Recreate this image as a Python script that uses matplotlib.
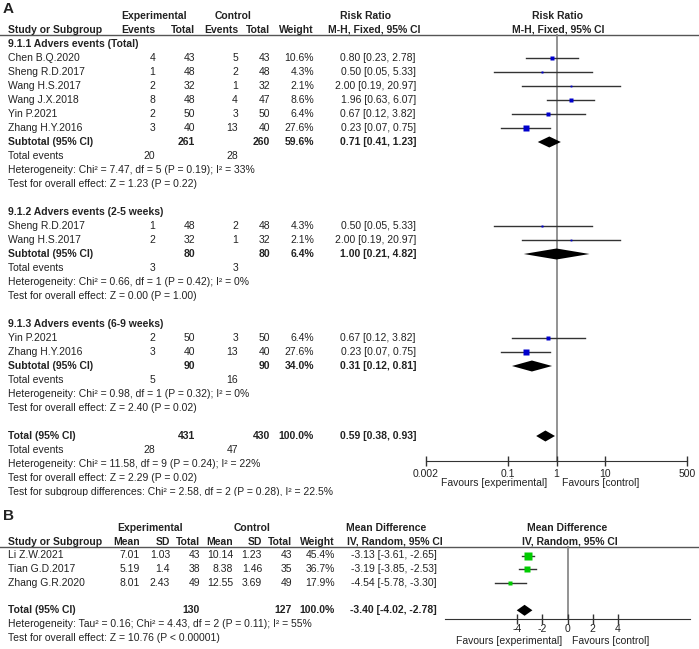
import matplotlib
matplotlib.use("Agg")
import matplotlib.pyplot as plt
from matplotlib.ticker import NullLocator
from matplotlib.transforms import Bbox

# ---------------- data: panel A (risk ratio, adverse events) ----------------
a_groups = ["9.1.1 Advers events (Total)",
            "9.1.2 Advers events (2-5 weeks)",
            "9.1.3 Advers events (6-9 weeks)"]
a_group = [0, 0, 0, 0, 0, 0, 1, 1, 2, 2]
a_studies = ["Chen B.Q.2020", "Sheng R.D.2017", "Wang H.S.2017", "Wang J.X.2018",
             "Yin P.2021", "Zhang H.Y.2016", "Sheng R.D.2017", "Wang H.S.2017",
             "Yin P.2021", "Zhang H.Y.2016"]
a_exp_events = [4, 1, 2, 8, 2, 3, 1, 2, 2, 3]
a_exp_total = [43, 48, 32, 48, 50, 40, 48, 32, 50, 40]
a_ctl_events = [5, 2, 1, 4, 3, 13, 2, 1, 3, 13]
a_ctl_total = [43, 48, 32, 47, 50, 40, 48, 32, 50, 40]
a_weight = [10.6, 4.3, 2.1, 8.6, 6.4, 27.6, 4.3, 2.1, 6.4, 27.6]
a_rr = [0.80, 0.50, 2.00, 1.96, 0.67, 0.23, 0.50, 2.00, 0.67, 0.23]
a_lo = [0.23, 0.05, 0.19, 0.63, 0.12, 0.07, 0.05, 0.19, 0.12, 0.07]
a_hi = [2.78, 5.33, 20.97, 6.07, 3.82, 0.75, 5.33, 20.97, 3.82, 0.75]

sub_exp_total = [261, 80, 90]
sub_ctl_total = [260, 80, 90]
sub_weight = [59.6, 6.4, 34.0]
sub_rr = [0.71, 1.00, 0.31]
sub_lo = [0.41, 0.21, 0.12]
sub_hi = [1.23, 4.82, 0.81]
sub_exp_events = [20, 3, 5]
sub_ctl_events = [28, 3, 16]
sub_het = ["Heterogeneity: Chi² = 7.47, df = 5 (P = 0.19); I² = 33%",
           "Heterogeneity: Chi² = 0.66, df = 1 (P = 0.42); I² = 0%",
           "Heterogeneity: Chi² = 0.98, df = 1 (P = 0.32); I² = 0%"]
sub_test = ["Test for overall effect: Z = 1.23 (P = 0.22)",
            "Test for overall effect: Z = 0.00 (P = 1.00)",
            "Test for overall effect: Z = 2.40 (P = 0.02)"]

a_tot_exp, a_tot_ctl, a_tot_weight = 431, 430, 100.0
a_tot_rr, a_tot_lo, a_tot_hi = 0.59, 0.38, 0.93
a_tot_exp_events, a_tot_ctl_events = 28, 47
a_tot_het = "Heterogeneity: Chi² = 11.58, df = 9 (P = 0.24); I² = 22%"
a_tot_test = "Test for overall effect: Z = 2.29 (P = 0.02)"
a_sub_diff = "Test for subgroup differences: Chi² = 2.58, df = 2 (P = 0.28), I² = 22.5%"
a_ticks = [0.002, 0.1, 1, 10, 500]
a_tick_labels = ["0.002", "0.1", "1", "10", "500"]

# ---------------- data: panel B (mean difference) ----------------
b_studies = ["Li Z.W.2021", "Tian G.D.2017", "Zhang G.R.2020"]
b_exp_mean = [7.01, 5.19, 8.01]
b_exp_sd = [1.03, 1.4, 2.43]
b_exp_n = [43, 38, 49]
b_ctl_mean = [10.14, 8.38, 12.55]
b_ctl_sd = [1.23, 1.46, 3.69]
b_ctl_n = [43, 35, 49]
b_weight = [45.4, 36.7, 17.9]
b_md = [-3.13, -3.19, -4.54]
b_lo = [-3.61, -3.85, -5.78]
b_hi = [-2.65, -2.53, -3.30]
b_tot_exp, b_tot_ctl, b_tot_weight = 130, 127, 100.0
b_tot_md, b_tot_lo, b_tot_hi = -3.40, -4.02, -2.78
b_het = "Heterogeneity: Tau² = 0.16; Chi² = 4.43, df = 2 (P = 0.11); I² = 55%"
b_test = "Test for overall effect: Z = 10.76 (P < 0.00001)"
b_ticks = [-4, -2, 0, 2, 4]

# ---------------- figure setup ----------------
plt.rcParams['font.family'] = ['Liberation Sans', 'DejaVu Sans']
plt.rcParams['font.size'] = 7.5
W, H = 699, 649
TXT = '#222222'
LINE = '#333333'

fig = plt.figure(figsize=(W / 100, H / 100), dpi=100)
tab = fig.add_axes([0, 0, 1, 1])
tab.set_xlim(0, W)
tab.set_ylim(H, 0)
tab.axis('off')


def px_axes(x0, x1, y0, y1, pad=2):
    ax = fig.add_axes([x0 / W, 1 - y1 / H, (x1 - x0) / W, (y1 - y0) / H])
    ax.set_facecolor('none')
    for s in ['top', 'left', 'right']:
        ax.spines[s].set_visible(False)
    ax.spines['bottom'].set_color(LINE)
    ax.set_yticks([])
    ax.xaxis.set_minor_locator(NullLocator())
    ax.tick_params(axis='x', direction='inout', length=7, width=1, color=LINE,
                   labelcolor=TXT, labelsize=7.5, pad=pad)
    return ax


def put(x, y, s, ha='left', bold=False, **kw):
    return tab.text(x, y, s, ha=ha, va='center', color=TXT,
                    fontweight='bold' if bold else 'normal', **kw)


def fmt_pct(w):
    return '{:.1f}%'.format(w)


def fmt_ci(e, lo, hi):
    return '{:.2f} [{:.2f}, {:.2f}]'.format(e, lo, hi)


# ================= PANEL A =================
colA = dict(ee=155, et=195, ce=238, ct=270, w=314, rr=416)
put(3, 9, 'A', bold=True, fontsize=11)
put(154, 16, 'Experimental', 'center', True)
put(233, 16, 'Control', 'center', True)
put(366, 16, 'Risk Ratio', 'center', True)
put(557, 16, 'Risk Ratio', 'center', True)
put(8, 30, 'Study or Subgroup', bold=True)
put(colA['ee'], 30, 'Events', 'right', True)
put(colA['et'], 30, 'Total', 'right', True)
put(colA['ce'], 30, 'Events', 'right', True)
put(colA['ct'], 30, 'Total', 'right', True)
put(colA['w'], 30, 'Weight', 'right', True)
put(374, 30, 'M-H, Fixed, 95% CI', 'center', True)
put(558, 30, 'M-H, Fixed, 95% CI', 'center', True)
tab.plot([0, W], [34.5, 34.5], color='#555555', lw=1)

axA = px_axes(426, 687, 34, 461)
axA.set_xscale('log')
axA.set_xlim(0.002, 500)
axA.set_ylim(461, 34)
axA.xaxis.set_minor_locator(NullLocator())
axA.set_xticks(a_ticks)
axA.set_xticklabels(a_tick_labels)
axA.axvline(1, color='#808080', lw=1.2, zorder=1)

row = 0
step = 14.0
y0 = 44


def ry(r):
    return y0 + step * r


for g, gname in enumerate(a_groups):
    put(8, ry(row), gname, bold=True)
    row += 1
    for i in [k for k, gg in enumerate(a_group) if gg == g]:
        y = ry(row)
        put(8, y, a_studies[i])
        put(colA['ee'], y, str(a_exp_events[i]), 'right')
        put(colA['et'], y, str(a_exp_total[i]), 'right')
        put(colA['ce'], y, str(a_ctl_events[i]), 'right')
        put(colA['ct'], y, str(a_ctl_total[i]), 'right')
        put(colA['w'], y, fmt_pct(a_weight[i]), 'right')
        put(colA['rr'], y, fmt_ci(a_rr[i], a_lo[i], a_hi[i]), 'right')
        axA.plot([a_lo[i], a_hi[i]], [y, y], color=LINE, lw=1, zorder=2)
        axA.plot(a_rr[i], y, 's', ms=1.14 * a_weight[i] ** 0.5 * 0.72 * 1.1,
                 color='#0000CC', mec='none', zorder=3)
        row += 1
    y = ry(row)
    put(8, y, 'Subtotal (95% CI)', bold=True)
    put(colA['et'], y, str(sub_exp_total[g]), 'right', True)
    put(colA['ct'], y, str(sub_ctl_total[g]), 'right', True)
    put(colA['w'], y, fmt_pct(sub_weight[g]), 'right', True)
    put(colA['rr'], y, fmt_ci(sub_rr[g], sub_lo[g], sub_hi[g]), 'right', True)
    axA.fill([sub_lo[g], sub_rr[g], sub_hi[g], sub_rr[g]], [y, y - 5.5, y, y + 5.5],
             color='black', lw=0, zorder=3)
    row += 1
    y = ry(row)
    put(8, y, 'Total events')
    put(colA['ee'], y, str(sub_exp_events[g]), 'right')
    put(colA['ce'], y, str(sub_ctl_events[g]), 'right')
    row += 1
    put(8, ry(row), sub_het[g])
    row += 1
    put(8, ry(row), sub_test[g])
    row += 2

y = ry(row)
put(8, y, 'Total (95% CI)', bold=True)
put(colA['et'], y, str(a_tot_exp), 'right', True)
put(colA['ct'], y, str(a_tot_ctl), 'right', True)
put(colA['w'], y, fmt_pct(a_tot_weight), 'right', True)
put(colA['rr'], y, fmt_ci(a_tot_rr, a_tot_lo, a_tot_hi), 'right', True)
axA.fill([a_tot_lo, a_tot_rr, a_tot_hi, a_tot_rr], [y, y - 5.5, y, y + 5.5],
         color='black', lw=0, zorder=3)
row += 1
y = ry(row)
put(8, y, 'Total events')
put(colA['ee'], y, str(a_tot_exp_events), 'right')
put(colA['ce'], y, str(a_tot_ctl_events), 'right')
row += 1
put(8, ry(row), a_tot_het)
row += 1
put(8, ry(row), a_tot_test)
row += 1
t = put(8, ry(row), a_sub_diff)
t.set_clip_box(Bbox.from_extents(0, H - 496, W, H))
t.set_clip_on(True)

put(547, 483, 'Favours [experimental]', 'right')
put(562, 483, 'Favours [control]', 'left')

# ================= PANEL B =================
colB = dict(em=140, es=170, en=200, cm=233, cs=262, cn=292, w=335, md=437)
put(3, 516, 'B', bold=True, fontsize=11)
put(150, 528, 'Experimental', 'center', True)
put(252, 528, 'Control', 'center', True)
put(386, 528, 'Mean Difference', 'center', True)
put(567, 528, 'Mean Difference', 'center', True)
hy = 542
put(8, hy, 'Study or Subgroup', bold=True)
put(colB['em'], hy, 'Mean', 'right', True)
put(colB['es'], hy, 'SD', 'right', True)
put(colB['en'], hy, 'Total', 'right', True)
put(colB['cm'], hy, 'Mean', 'right', True)
put(colB['cs'], hy, 'SD', 'right', True)
put(colB['cn'], hy, 'Total', 'right', True)
put(colB['w'], hy, 'Weight', 'right', True)
put(395, hy, 'IV, Random, 95% CI', 'center', True)
put(570, hy, 'IV, Random, 95% CI', 'center', True)
tab.plot([0, W], [546.5, 546.5], color='#555555', lw=1)

axB = px_axes(445, 690, 546, 619, pad=0)
axB.set_xlim(-9.7, 9.7)
axB.set_ylim(619, 546)
axB.set_xticks(b_ticks)
axB.set_xticklabels([str(v) for v in b_ticks])
axB.axvline(0, color='#808080', lw=1.2, zorder=1)

b_y0, b_step = 555.5, 13.7
for i, name in enumerate(b_studies):
    y = b_y0 + b_step * i
    put(8, y, name)
    put(colB['em'], y, '{:g}'.format(b_exp_mean[i]), 'right')
    put(colB['es'], y, '{:g}'.format(b_exp_sd[i]), 'right')
    put(colB['en'], y, str(b_exp_n[i]), 'right')
    put(colB['cm'], y, '{:g}'.format(b_ctl_mean[i]), 'right')
    put(colB['cs'], y, '{:g}'.format(b_ctl_sd[i]), 'right')
    put(colB['cn'], y, str(b_ctl_n[i]), 'right')
    put(colB['w'], y, fmt_pct(b_weight[i]), 'right')
    put(colB['md'], y, fmt_ci(b_md[i], b_lo[i], b_hi[i]), 'right')
    axB.plot([b_lo[i], b_hi[i]], [y, y], color=LINE, lw=1, zorder=2)
    axB.plot(b_md[i], y, 's', ms=1.05 * b_weight[i] ** 0.5 * 0.72 * 1.1,
             color='#00CC00', mec='none', zorder=3)

y = b_y0 + b_step * (len(b_studies) + 1)
put(8, y, 'Total (95% CI)', bold=True)
put(colB['en'], y, str(b_tot_exp), 'right', True)
put(colB['cn'], y, str(b_tot_ctl), 'right', True)
put(colB['w'], y, fmt_pct(b_tot_weight), 'right', True)
put(colB['md'], y, fmt_ci(b_tot_md, b_tot_lo, b_tot_hi), 'right', True)
axB.fill([b_tot_lo, b_tot_md, b_tot_hi, b_tot_md], [y, y - 5.5, y, y + 5.5],
         color='black', lw=0, zorder=3)
put(8, y + b_step, b_het)
put(8, y + 2 * b_step, b_test)
put(562, 641, 'Favours [experimental]', 'right')
put(572, 641, 'Favours [control]', 'left')

fig.savefig('out.png', dpi=100)
